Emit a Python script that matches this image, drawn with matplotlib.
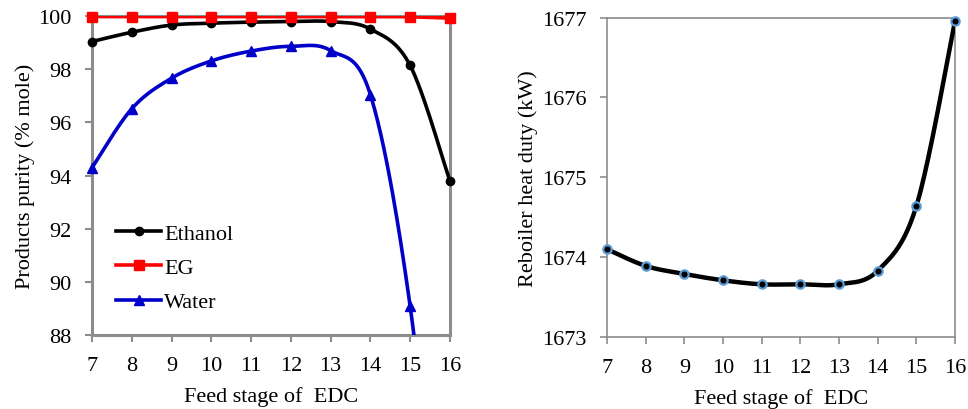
import numpy as np
import matplotlib
matplotlib.use("Agg")
import matplotlib.pyplot as plt

plt.rcParams["font.family"] = ["Liberation Serif", "DejaVu Serif"]
plt.rcParams["font.size"] = 16

# Feed stage of the extractive distillation column
stages = [7, 8, 9, 10, 11, 12, 13, 14, 15, 16]

# Product purities (% mole)
ethanol = [99.04, 99.39, 99.66, 99.73, 99.77, 99.79, 99.79, 99.51, 98.14, 93.79]
eg = [99.98, 99.98, 99.98, 99.98, 99.98, 99.98, 99.98, 99.98, 99.97, 99.92]
water = [94.29, 96.51, 97.66, 98.31, 98.68, 98.86, 98.70, 97.04, 89.08, 75.5]

# Reboiler heat duty (kW)
duty = [1674.10, 1673.89, 1673.79, 1673.71, 1673.66, 1673.66, 1673.66, 1673.83, 1674.64, 1676.96]

xticks = list(range(7, 17))
purity_ticks = [88, 90, 92, 94, 96, 98, 100]
duty_ticks = [1673, 1674, 1675, 1676, 1677]

GRAY = "#8c8c8c"


def smooth(x, y, n=40):
    """Cubic Bezier spline through the points (Catmull-Rom style control points)."""
    x = np.asarray(x, float)
    y = np.asarray(y, float)
    pts = np.column_stack([x, y])
    m = len(pts)
    out = []
    t = np.linspace(0, 1, n)[:, None]
    for i in range(m - 1):
        p0 = pts[i - 1] if i > 0 else pts[i]
        p1 = pts[i]
        p2 = pts[i + 1]
        p3 = pts[i + 2] if i + 2 < m else pts[i + 1]
        c1 = p1 + (p2 - p0) / 6.0
        c2 = p2 - (p3 - p1) / 6.0
        seg = ((1 - t) ** 3) * p1 + 3 * ((1 - t) ** 2) * t * c1 + 3 * (1 - t) * t ** 2 * c2 + t ** 3 * p2
        out.append(seg if i == 0 else seg[1:])
    s = np.vstack(out)
    return s[:, 0], s[:, 1]


fig = plt.figure(figsize=(9.68, 4.10), dpi=100)
ax1 = fig.add_axes([0.0950, 0.1805, 0.3698, 0.778])
ax2 = fig.add_axes([0.6271, 0.1756, 0.3595, 0.779])

# ---- left panel: purities ----
ymin, ymax = 88, 100
series = [
    ("Ethanol", ethanol, "black", "o", 6),
    ("EG", eg, "#ff0000", "s", 6.5),
    ("Water", water, "#0000c8", "^", 7.5),
]
handles = []
for name, vals, col, mk, ms in series:
    sx, sy = smooth(stages, vals)
    ax1.plot(sx, sy, color=col, lw=2.6, zorder=3, clip_on=True)
    xs = np.array(stages, float)
    vs = np.array(vals, float)
    keep = vs >= ymin
    ax1.plot(xs[keep], vs[keep], ls="none", marker=mk, ms=ms, color=col,
             zorder=4, clip_on=False)
    h, = ax1.plot([], [], color=col, lw=2.6, marker=mk, ms=ms, label=name)
    handles.append(h)

ax1.set_xlim(7, 16)
ax1.set_ylim(ymin, ymax)
ax1.set_xticks(xticks)
ax1.set_yticks(purity_ticks)
ax1.set_xlabel("Feed stage of  EDC", labelpad=8)
ax1.set_ylabel("Products purity (% mole)", labelpad=2)
for sp in ax1.spines.values():
    sp.set_color(GRAY)
    sp.set_linewidth(2.2)
ax1.tick_params(colors=GRAY, labelcolor="black", width=1.5, length=5, direction="out")
ax1.tick_params(axis="y", pad=10)
ax1.tick_params(axis="x", pad=10)
leg = ax1.legend(handles=handles, loc="lower left", bbox_to_anchor=(0.025, 0.022),
                 frameon=False, handlelength=2.0, handletextpad=0.15,
                 labelspacing=0.62, borderaxespad=0.3, fontsize=16)

# ---- right panel: reboiler duty ----
sx, sy = smooth(stages, duty)
ax2.plot(sx, sy, color="black", lw=3.2, zorder=3)
ax2.plot(stages, duty, ls="none", marker="o", ms=6, mfc="black",
         mec="#5b9bd5", mew=1.6, zorder=4, clip_on=False)
ax2.set_xlim(7, 16)
ax2.set_ylim(1673, 1677)
ax2.set_xticks(xticks)
ax2.set_yticks(duty_ticks)
ax2.set_xlabel("Feed stage of  EDC", labelpad=8)
ax2.set_ylabel("Reboiler heat duty (kW)", labelpad=3)
for sp in ax2.spines.values():
    sp.set_color(GRAY)
    sp.set_linewidth(1.2)
ax2.tick_params(colors=GRAY, labelcolor="black", width=1.2, length=5, direction="out")
ax2.tick_params(axis="y", pad=10)
ax2.tick_params(axis="x", pad=10)

fig.savefig("out.png", dpi=100)
